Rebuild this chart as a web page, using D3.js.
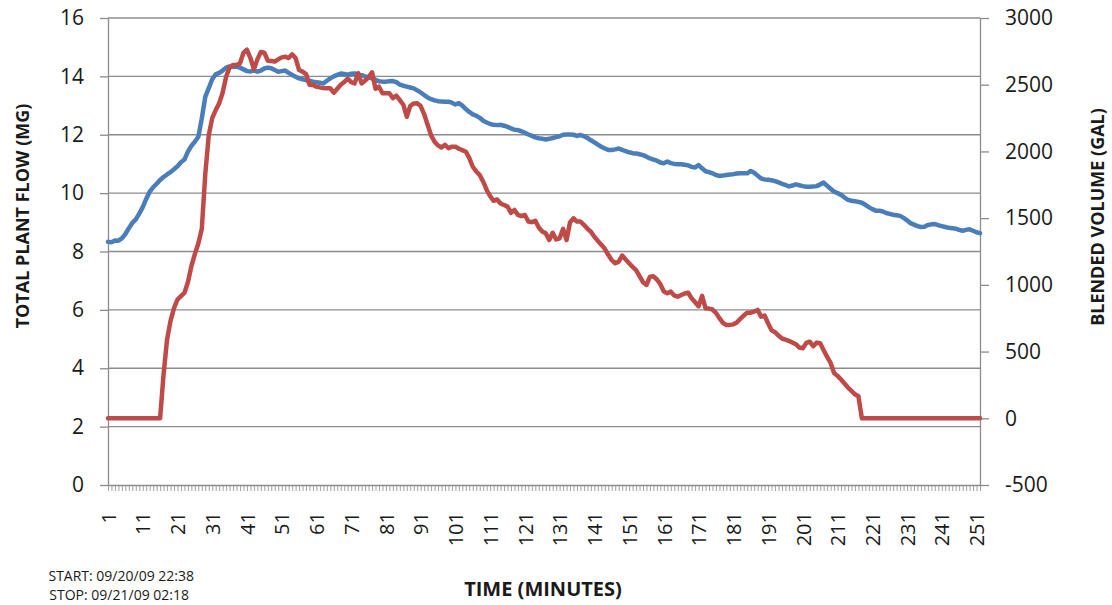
<!DOCTYPE html>
<html>
<head>
<meta charset="utf-8">
<script src="https://cdn.jsdelivr.net/npm/d3@7"></script>
<style>
  html, body { margin: 0; padding: 0; background: #fff; overflow: hidden; }
  svg { display: block; font-family: "Open Sans", "Liberation Sans", sans-serif; }
</style>
</head>
<body>
<svg id="chart" width="1112" height="605"></svg>
<script>
// ---- data ----
const minutes = d3.range(1, 253);            // categories: minute 1 .. 252
const xTickLabels = [1, 11, 21, 31, 41, 51, 61, 71, 81, 91, 101, 111, 121, 131, 141, 151, 161, 171, 181, 191, 201, 211, 221, 231, 241, 251];
const flowTicks = [0, 2, 4, 6, 8, 10, 12, 14, 16];
const volumeTicks = [-500, 0, 500, 1000, 1500, 2000, 2500, 3000];

// TOTAL PLANT FLOW (MG) - left axis, blue
const plantFlow = [
  8.33, 8.32, 8.38, 8.37, 8.45, 8.60, 8.80, 8.98, 9.10, 9.30,
  9.52, 9.80, 10.05, 10.20, 10.32, 10.45, 10.55, 10.64, 10.72, 10.82,
  10.92, 11.06, 11.15, 11.42, 11.62, 11.76, 11.93, 12.56, 13.30, 13.60,
  13.90, 14.07, 14.12, 14.20, 14.30, 14.34, 14.33, 14.33, 14.30, 14.24,
  14.18, 14.17, 14.20, 14.16, 14.20, 14.27, 14.30, 14.28, 14.22, 14.16,
  14.18, 14.20, 14.12, 14.05, 13.99, 13.93, 13.90, 13.87, 13.85, 13.82,
  13.80, 13.78, 13.76, 13.85, 13.93, 14.00, 14.05, 14.10, 14.08, 14.06,
  14.09, 14.10, 14.06, 14.04, 14.00, 13.97, 13.93, 13.88, 13.83, 13.82,
  13.82, 13.83, 13.84, 13.80, 13.72, 13.68, 13.65, 13.62, 13.59, 13.52,
  13.45, 13.36, 13.28, 13.22, 13.18, 13.15, 13.14, 13.13, 13.13, 13.10,
  13.04, 13.08, 13.00, 12.88, 12.78, 12.70, 12.65, 12.58, 12.48, 12.42,
  12.37, 12.34, 12.33, 12.34, 12.31, 12.27, 12.22, 12.17, 12.16, 12.12,
  12.07, 12.01, 11.96, 11.91, 11.88, 11.86, 11.84, 11.86, 11.89, 11.92,
  11.95, 12.00, 12.01, 12.01, 12.00, 11.96, 11.99, 11.95, 11.89, 11.81,
  11.74, 11.66, 11.59, 11.53, 11.48, 11.48, 11.50, 11.53, 11.48, 11.44,
  11.40, 11.37, 11.36, 11.33, 11.30, 11.25, 11.19, 11.15, 11.11, 11.05,
  11.02, 11.08, 11.03, 11.00, 10.99, 10.99, 10.97, 10.95, 10.90, 10.88,
  10.96, 10.85, 10.75, 10.72, 10.68, 10.62, 10.59, 10.60, 10.62, 10.64,
  10.65, 10.67, 10.68, 10.68, 10.68, 10.76, 10.70, 10.60, 10.50, 10.47,
  10.46, 10.44, 10.41, 10.37, 10.32, 10.28, 10.23, 10.26, 10.30, 10.27,
  10.24, 10.22, 10.22, 10.23, 10.24, 10.30, 10.36, 10.25, 10.15, 10.05,
  10.00, 9.94, 9.85, 9.77, 9.74, 9.72, 9.70, 9.67, 9.60, 9.52,
  9.45, 9.40, 9.40, 9.37, 9.32, 9.29, 9.26, 9.24, 9.22, 9.15,
  9.07, 8.97, 8.92, 8.87, 8.84, 8.85, 8.91, 8.93, 8.94, 8.90,
  8.87, 8.84, 8.81, 8.80, 8.78, 8.74, 8.71, 8.74, 8.76, 8.71,
  8.66, 8.63
];

// BLENDED VOLUME (GAL) - right axis, red
const blendedVolume = [
  0, 0, 0, 0, 0, 0, 0, 0, 0, 0,
  0, 0, 0, 0, 0, 0, 330, 590, 730, 825,
  890, 915, 940, 1020, 1140, 1230, 1310, 1420, 1830, 2120,
  2250, 2310, 2360, 2440, 2560, 2630, 2648, 2648, 2660, 2740,
  2762, 2700, 2615, 2690, 2745, 2740, 2680, 2678, 2673, 2690,
  2705, 2710, 2700, 2728, 2700, 2610, 2598, 2580, 2500, 2498,
  2485, 2480, 2476, 2473, 2473, 2440, 2470, 2500, 2520, 2545,
  2520, 2510, 2586, 2510, 2530, 2555, 2593, 2470, 2485, 2436,
  2436, 2436, 2400, 2418, 2385, 2350, 2260, 2340, 2360, 2361,
  2340, 2280, 2200, 2120, 2073, 2045, 2030, 2050, 2024, 2036,
  2036, 2020, 2010, 1998, 1950, 1885, 1850, 1823, 1773, 1711,
  1665, 1630, 1640, 1610, 1598, 1586, 1540, 1561, 1525, 1515,
  1524, 1475, 1470, 1480, 1430, 1400, 1386, 1336, 1390, 1340,
  1349, 1420, 1336, 1470, 1499, 1474, 1474, 1450, 1420, 1398,
  1361, 1330, 1300, 1270, 1225, 1185, 1162, 1174, 1220, 1190,
  1162, 1135, 1111, 1065, 1020, 1000, 1061, 1064, 1040, 1005,
  950, 937, 949, 920, 911, 924, 935, 941, 899, 870,
  840, 917, 824, 822, 815, 790, 750, 715, 699, 700,
  704, 718, 745, 770, 791, 791, 800, 812, 762, 770,
  712, 660, 645, 620, 598, 590, 580, 568, 555, 530,
  525, 565, 574, 540, 567, 562, 510, 460, 415, 340,
  318, 290, 260, 230, 205, 180, 165, 0, 0, 0,
  0, 0, 0, 0, 0, 0, 0, 0, 0, 0,
  0, 0, 0, 0, 0, 0, 0, 0, 0, 0,
  0, 0, 0, 0, 0, 0, 0, 0, 0, 0,
  0, 0
];

// ---- layout ----
const svg = d3.select("#chart");
const plot = { left: 108, right: 980, top: 18, bottom: 485 };
const gridColor = "#8c8c8c";
const textColor = "#1a1a1a";
const tickFont = "Open Sans, sans-serif";

const x = d3.scaleLinear().domain([minutes[0], minutes[minutes.length - 1]]).range([plot.left, plot.right]);
const yL = d3.scaleLinear().domain([0, 16]).range([plot.bottom, plot.top]);
const yR = d3.scaleLinear().domain([-500, 3000]).range([plot.bottom, plot.top]);

// gridlines
svg.append("g").selectAll("line").data(flowTicks.filter(d => d > 0)).join("line")
  .attr("x1", plot.left).attr("x2", plot.right)
  .attr("y1", d => yL(d)).attr("y2", d => yL(d))
  .attr("stroke", gridColor).attr("stroke-width", 1.3);

// left axis
const gL = svg.append("g").attr("transform", `translate(${plot.left},0)`)
  .call(d3.axisLeft(yL).tickValues(flowTicks).tickSize(8).tickPadding(16).tickSizeOuter(0)
    .tickFormat(d => String(d)));
gL.select(".domain").attr("stroke", gridColor).attr("stroke-width", 1.3);
gL.selectAll(".tick line").attr("stroke", gridColor).attr("stroke-width", 1.3);
gL.selectAll(".tick text").attr("font-size", 21).attr("fill", textColor)
  .attr("font-family", tickFont);

// right axis
const gR = svg.append("g").attr("transform", `translate(${plot.right},0)`)
  .call(d3.axisRight(yR).tickValues(volumeTicks).tickSize(9).tickPadding(16).tickSizeOuter(0)
    .tickFormat(d => String(d)));
gR.select(".domain").attr("stroke", gridColor).attr("stroke-width", 1.3);
gR.selectAll(".tick line").attr("stroke", gridColor).attr("stroke-width", 1.3);
gR.selectAll(".tick text").attr("font-size", 21).attr("fill", textColor)
  .attr("font-family", tickFont);

// bottom axis
const gB = svg.append("g").attr("transform", `translate(0,${plot.bottom})`)
  .call(d3.axisBottom(x).tickValues(minutes).tickSize(6).tickSizeOuter(0)
    .tickFormat(d => xTickLabels.includes(d) ? String(d) : ""));
gB.select(".domain").attr("stroke", gridColor).attr("stroke-width", 1.3);
gB.selectAll(".tick line").attr("stroke", gridColor).attr("stroke-width", 0.8);
gB.selectAll(".tick text")
  .attr("font-size", 20).attr("fill", textColor)
  .attr("font-family", tickFont)
  .attr("transform", "rotate(-90)")
  .attr("text-anchor", "end")
  .attr("x", -27).attr("y", 0).attr("dy", "0.36em");

// series
const lineFlow = d3.line().x((d, i) => x(minutes[i])).y(d => yL(d));
const lineVol = d3.line().x((d, i) => x(minutes[i])).y(d => yR(d));

svg.append("path").datum(plantFlow)
  .attr("d", lineFlow).attr("fill", "none")
  .attr("stroke", "#4a7ebb").attr("stroke-width", 4.5)
  .attr("stroke-linejoin", "round").attr("stroke-linecap", "round");

svg.append("path").datum(blendedVolume)
  .attr("d", lineVol).attr("fill", "none")
  .attr("stroke", "#be4b48").attr("stroke-width", 4.5)
  .attr("stroke-linejoin", "round").attr("stroke-linecap", "round");

// titles
svg.append("text")
  .attr("transform", "translate(29,216) rotate(-90)")
  .attr("text-anchor", "middle")
  .attr("font-size", 18).attr("font-weight", "bold").attr("fill", textColor)
  .text("TOTAL PLANT FLOW (MG)");

svg.append("text")
  .attr("transform", "translate(1104,217) rotate(-90)")
  .attr("text-anchor", "middle")
  .attr("font-size", 18).attr("font-weight", "bold").attr("fill", textColor)
  .text("BLENDED VOLUME (GAL)");

svg.append("text")
  .attr("x", 543).attr("y", 596)
  .attr("text-anchor", "middle")
  .attr("font-size", 20).attr("font-weight", "bold").attr("fill", textColor)
  .text("TIME (MINUTES)");

svg.append("text")
  .attr("x", 194).attr("y", 581)
  .attr("text-anchor", "end")
  .attr("font-size", 14).attr("fill", textColor)
  .text("START: 09/20/09 22:38");

svg.append("text")
  .attr("x", 189).attr("y", 600)
  .attr("text-anchor", "end")
  .attr("font-size", 14).attr("fill", textColor)
  .text("STOP: 09/21/09 02:18");
</script>
</body>
</html>
